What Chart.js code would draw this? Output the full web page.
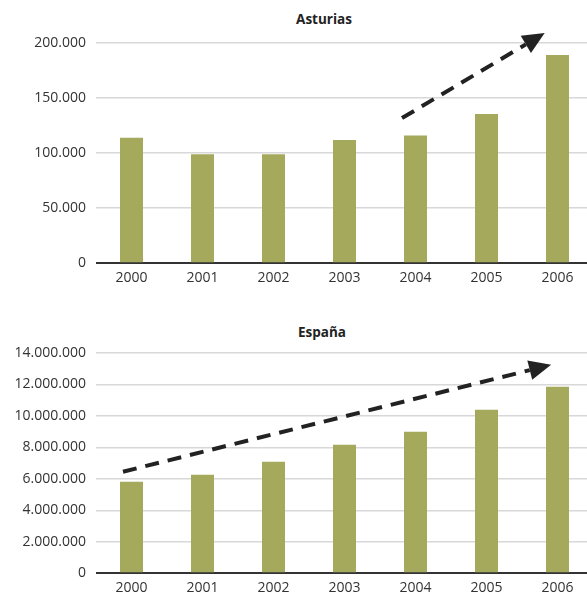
<!DOCTYPE html>
<html>
<head>
<meta charset="utf-8">
<script src="https://cdn.jsdelivr.net/npm/chart.js@4/dist/chart.umd.min.js"></script>
<style>
  html, body { margin: 0; padding: 0; background: #fff; overflow: hidden; width: 587px; height: 596px; }
  .panel { position: absolute; left: 0; width: 593px; }
  .title { position: absolute; width: 200px; text-align: center; font: bold 13.5px 'Open Sans', sans-serif; color: #222; }
</style>
</head>
<body>
<div class="title" style="left:224px; top:10px;">Asturias</div>
<div class="title" style="left:222px; top:323px;">España</div>
<div class="panel" style="top:0; height:300px;"><canvas id="asturias" width="593" height="300"></canvas></div>
<div class="panel" style="top:300px; height:302px;"><canvas id="espana" width="593" height="302"></canvas></div>
<script>
// Years on the horizontal axis
const years = ['2000', '2001', '2002', '2003', '2004', '2005', '2006'];

// Yearly totals per region
const asturiasValues = [114000, 99000, 99000, 112000, 116000, 135500, 189000];
const espanaValues = [5810000, 6260000, 7080000, 8170000, 8990000, 10390000, 11860000];

// Value axis limits and step sizes
const asturiasAxis = [0, 200000, 50000];
const espanaAxis = [0, 14000000, 2000000];

// Trend arrows: start and tip, in category index / value units
const asturiasTrend = [{ x: 3.81, y: 131800 }, { x: 5.82, y: 209000 }];
const espanaTrend = [{ x: -0.12, y: 6450000 }, { x: 5.91, y: 13250000 }];

const BAR = '#a4a95c';
const INK = '#222222';

function fmt(v) {
  return String(Math.round(v)).replace(/\B(?=(\d{3})+(?!\d))/g, '.');
}

// Dashed trend line ending in a filled arrowhead
const trendArrow = {
  id: 'trendArrow',
  afterDatasetsDraw(chart, args, opts) {
    const pts = opts.points;
    if (!pts) return;
    const xs = chart.scales.x, ys = chart.scales.y;
    const x0 = xs.getPixelForValue(pts[0].x), y0 = ys.getPixelForValue(pts[0].y);
    const x1 = xs.getPixelForValue(pts[1].x), y1 = ys.getPixelForValue(pts[1].y);
    const ang = Math.atan2(y1 - y0, x1 - x0);
    const headLen = 22, headHalf = 10;
    const bx = x1 - headLen * Math.cos(ang), by = y1 - headLen * Math.sin(ang);
    const ctx = chart.ctx;
    ctx.save();
    ctx.strokeStyle = INK;
    ctx.lineWidth = 4;
    ctx.setLineDash([14, 9]);
    ctx.beginPath();
    ctx.moveTo(x0, y0);
    ctx.lineTo(bx, by);
    ctx.stroke();
    ctx.setLineDash([]);
    ctx.fillStyle = INK;
    ctx.beginPath();
    ctx.moveTo(x1, y1);
    ctx.lineTo(bx - headHalf * Math.sin(ang), by + headHalf * Math.cos(ang));
    ctx.lineTo(bx + headHalf * Math.sin(ang), by - headHalf * Math.cos(ang));
    ctx.closePath();
    ctx.fill();
    ctx.restore();
  }
};

function build(id, values, axis, trend, padding) {
  return new Chart(document.getElementById(id), {
    type: 'bar',
    data: {
      labels: years,
      datasets: [{
        data: values,
        backgroundColor: BAR,
        borderWidth: 0,
        barPercentage: 0.324,
        categoryPercentage: 1
      }]
    },
    options: {
      responsive: false,
      animation: false,
      layout: { padding: padding },
      plugins: {
        legend: { display: false },
        tooltip: { enabled: false },
        title: { display: false },
        trendArrow: { points: trend }
      },
      scales: {
        x: {
          grid: { display: false, drawTicks: false },
          border: { display: false },
          ticks: { color: '#333', padding: 6, font: { family: 'Open Sans', size: 14 } }
        },
        y: {
          min: axis[0],
          max: axis[1],
          afterFit(scale) { scale.width = 96; },
          grid: {
            drawTicks: false,
            color: c => (c.tick && c.tick.value === 0 ? '#333333' : '#d8d8d8'),
            lineWidth: c => (c.tick && c.tick.value === 0 ? 2 : 1.5)
          },
          border: { display: false },
          ticks: {
            stepSize: axis[2],
            padding: 10,
            color: '#333',
            font: { family: 'Open Sans', size: 14 },
            callback: v => fmt(v)
          }
        }
      }
    },
    plugins: [trendArrow]
  });
}

build('asturias', asturiasValues, asturiasAxis, asturiasTrend, { top: 43, bottom: 8, left: 0, right: 0 });
build('espana', espanaValues, espanaAxis, espanaTrend, { top: 53, bottom: 0, left: 0, right: 0 });
</script>
</body>
</html>
